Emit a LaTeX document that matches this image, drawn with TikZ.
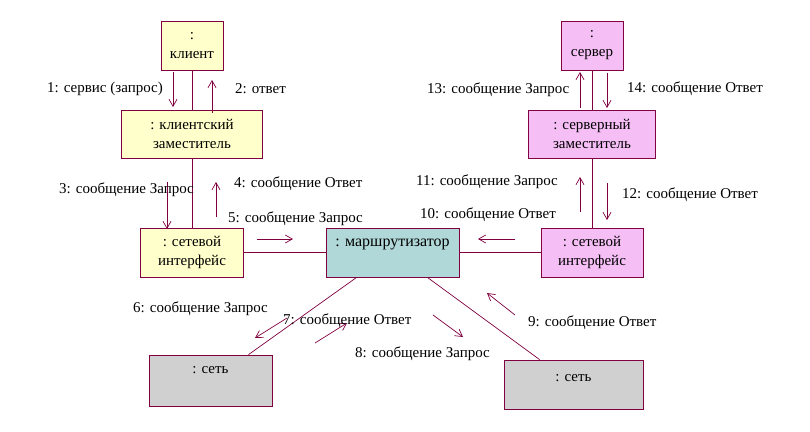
\documentclass[tikz,border=0pt]{standalone}
\usepackage{fontspec}
\setmainfont{Liberation Serif}
\usetikzlibrary{arrows.meta,calc}
\definecolor{bord}{HTML}{800040}
\definecolor{yel}{HTML}{FFFFCC}
\definecolor{pnk}{HTML}{F5BEF5}
\definecolor{tea}{HTML}{B0D8D8}
\definecolor{gry}{HTML}{D0D0D0}
\newcommand{\txtfont}{\fontsize{15}{19}\selectfont}
\tikzset{
  box/.style={draw=bord, line width=0.8pt, inner sep=0pt, align=center, font=\txtfont},
  link/.style={draw=bord, line width=0.7pt},
  msg/.style={draw=bord, line width=0.7pt, -{Straight Barb[length=7pt,width=8pt]}},
  lbl/.style={inner sep=0pt, anchor=west, font=\txtfont, yshift=-1.5pt},
  intxt/.style={inner sep=0pt, font=\txtfont}
}
\begin{document}
\begin{tikzpicture}[x=1pt,y=-1pt]
\useasboundingbox[fill=white] (0,0) rectangle (810,431);
% boxes
\node[box, fill=yel, minimum width=62pt, minimum height=49pt] (client) at (192,45.5) {:\\клиент};
\node[box, fill=yel, minimum width=141pt, minimum height=48pt] (cproxy) at (192,134) {: клиентский\\заместитель};
\node[box, fill=yel, minimum width=103pt, minimum height=49pt] (nifL) at (192,252.5) {: сетевой\\интерфейс};
\node[box, fill=tea, minimum width=133pt, minimum height=49pt] (router) at (392.5,252.5) {};
\node[intxt, font=\fontsize{16}{19}\selectfont] (rtext) at ($(router.north)+(0,17)$) {: маршрутизатор};
\node[box, fill=pnk, minimum width=62pt, minimum height=49pt] (server) at (592,45.5) {:\\сервер};
\node[box, fill=pnk, minimum width=127pt, minimum height=48pt] (sproxy) at (592,134) {: серверный\\заместитель};
\node[box, fill=pnk, minimum width=102pt, minimum height=49pt] (nifR) at (592,252.5) {: сетевой\\интерфейс};
\node[box, fill=gry, minimum width=123pt, minimum height=51pt] (netL) at (210.5,380.5) {};
\node[intxt] (netLt) at ($(netL.north)+(0,15)$) {: сеть};
\node[box, fill=gry, minimum width=139pt, minimum height=49pt] (netR) at (573.5,384.5) {};
\node[intxt] (netRt) at ($(netR.north)+(0,18)$) {: сеть};
% links
\draw[link] (client) -- (cproxy);
\draw[link] (cproxy) -- (nifL);
\draw[link] (nifL) -- (router);
\draw[link] (router) -- (nifR);
\draw[link] (server) -- (sproxy);
\draw[link] (sproxy) -- (nifR);
\draw[link] ($(router.south west)+(31,0)$) -- ($(netL.north)+(38,0)$);
\draw[link] ($(router.south east)+(-32,0)$) -- ($(netR.north west)+(36,0)$);
% messages
\draw[msg] (173,72) -- (173,107);
\node[lbl] (l1) at (47,87) {1: сервис (запрос)};
\draw[msg] (212,113) -- (212,80);
\node[lbl] (l2) at (235,87) {2: ответ};
\draw[msg] (167,182) -- (167,229);
\node[lbl] (l3) at (59,188) {3: сообщение Запрос};
\draw[msg] (216,217) -- (216,182);
\node[lbl] (l4) at (234,182) {4: сообщение Ответ};
\draw[msg] (257,239) -- (293,239);
\node[lbl] (l5) at (228,217) {5: сообщение Запрос};
\draw[msg] (515,239) -- (478,239);
\node[lbl] (l10) at (420,213) {10: сообщение Ответ};
\draw[msg] (580,212) -- (580,177);
\node[lbl] (l11) at (416,180) {11: сообщение Запрос};
\draw[msg] (607,183) -- (607,220);
\node[lbl] (l12) at (622,193) {12: сообщение Ответ};
\draw[msg] (580,108) -- (580,72);
\node[lbl] (l13) at (427,88) {13: сообщение Запрос};
\draw[msg] (607,73) -- (607,108);
\node[lbl] (l14) at (627,87) {14: сообщение Ответ};
\draw[msg] (287,318) -- (255,338);
\node[lbl] (l6) at (133,307) {6: сообщение Запрос};
\draw[msg] (315,343) -- (347,323);
\node[lbl] (l7) at (283,319) {7: сообщение Ответ};
\draw[msg] (433,315) -- (463,337);
\node[lbl] (l8) at (355,352) {8: сообщение Запрос};
\draw[msg] (515,315) -- (487,293);
\node[lbl] (l9) at (528,321) {9: сообщение Ответ};
\end{tikzpicture}
\end{document}
